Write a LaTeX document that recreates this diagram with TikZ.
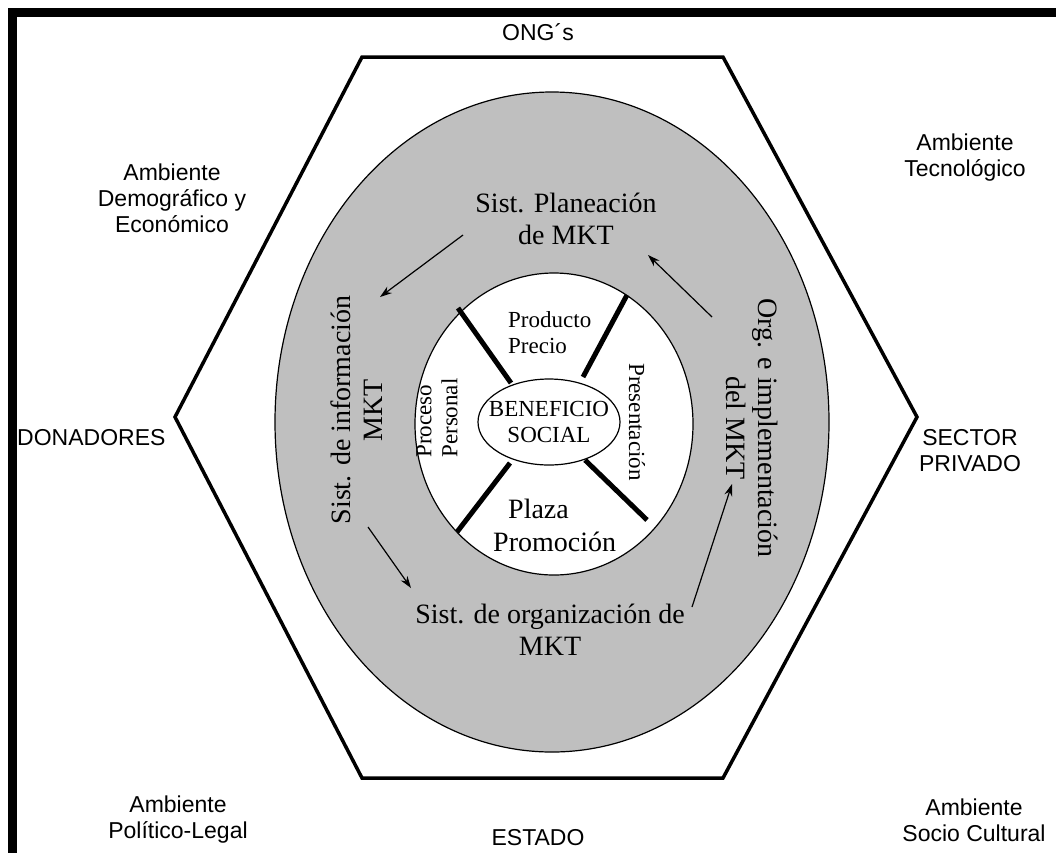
\documentclass[tikz,border=0pt]{standalone}
\usepackage{fontspec}
\setmainfont{Liberation Serif}
\setsansfont{Liberation Sans}
\usetikzlibrary{arrows.meta,shapes.geometric}
\definecolor{ringgray}{RGB}{191,191,191}

\begin{document}
\begin{tikzpicture}[x = 1pt, y = -1pt, > = {Stealth[length=12pt,width=8pt]},
    env/.style = {font=\sffamily\fontsize{23}{26}\selectfont, align=center, inner sep=0pt},
    ringtext/.style = {font=\fontsize{28}{32}\selectfont, align=center, inner sep=0pt},
    mixtext/.style = {font=\fontsize{23}{26}\selectfont, inner sep=0pt},
    oval/.style = {ellipse, draw, line width=1.2pt, inner sep=0pt},
    spoke/.style = {line width=5pt},
    flow/.style = {->, line width=1.2pt}]
    \useasboundingbox (0,0) rectangle (1056,852);
    \draw [line width=9pt] (12.5,12) rectangle (1080,857);
    % hexagon and rings
    \draw [line width=3.5pt] (175,417) -- (362,57) -- (723,57) -- (917,417) -- (723,778) -- (362,778) -- cycle;
    \node [oval, fill=ringgray, minimum width=554pt, minimum height=660pt] (ring) at (552,422) {};
    \node [oval, fill=white, minimum width=278pt, minimum height=302pt] (mix) at (554,424) {};
    \node [oval, minimum width=142pt, minimum height=86pt] (benef) at (549,422) {};
    \node [mixtext, align=center] (benef-txt) at (benef) {BENEFICIO\\SOCIAL};
    \draw [spoke] (458,308) -- (511,383) (627,295) -- (583,377)
                  (510,463) -- (457,532) (585,460) -- (647,520);
    % mix labels
    \node [mixtext, anchor=west, align=left] (prod) at (508,333) {Producto\\Precio};
    \node [mixtext, rotate=90, align=left] (proc) at (437,418) {Proceso\\Personal};
    \node [mixtext, rotate=-90] (pres) at (637,422) {Presentación};
    \node [mixtext, font=\fontsize{28}{33}\selectfont, anchor=west, align=left] (plaza) at (493,525) {\hspace*{15pt}Plaza\\Promoción};
    % marketing systems
    \node [ringtext] (plan) at (566,219) {Sist. Planeación\\de MKT};
    \node [ringtext, rotate=90] (info) at (357,410) {Sist. de información\\MKT};
    \node [ringtext] (org) at (550,630) {Sist. de organización de\\MKT};
    \node [ringtext, rotate=-90] (impl) at (752,428) {Org. e implementación\\del MKT};
    \coordinate (plan-out) at (463,235);  \coordinate (info-in) at (380,297);
    \coordinate (info-out) at (368,527);  \coordinate (org-in) at (411,588);
    \coordinate (org-out) at (692,607);   \coordinate (impl-in) at (732,484);
    \coordinate (impl-out) at (712,317);  \coordinate (plan-in) at (648,255);
    \draw [flow] (plan-out) -- (info-in);
    \draw [flow] (info-out) -- (org-in);
    \draw [flow] (org-out) -- (impl-in);
    \draw [flow] (impl-out) -- (plan-in);
    % environment
    \node [env] (ong) at (538,32) {ONG´s};
    \node [env] (demog) at (172,198) {Ambiente\\Demográfico y\\Económico};
    \node [env] (tecno) at (965,158) {Ambiente\\Tecnológico};
    \node [env, anchor=west] (donad) at (17,438) {DONADORES};
    \node [env] (sector) at (970,451) {SECTOR\\PRIVADO};
    \node [env] (polit) at (178,820) {Ambiente\\Político-Legal};
    \node [env] (socio) at (974,820) {Ambiente\\Socio Cultural};
    \node [env] (estado) at (538,838) {ESTADO};
\end{tikzpicture}
\end{document}
